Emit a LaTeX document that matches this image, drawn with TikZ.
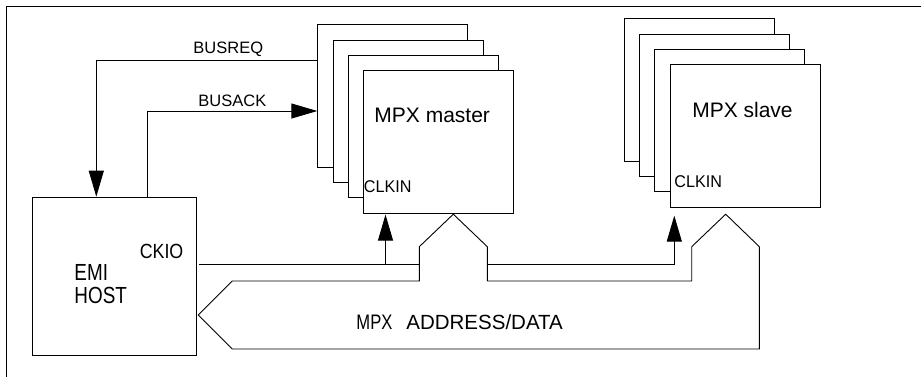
\documentclass[tikz,border=0pt]{standalone}
\usepackage{fontspec}
\setmainfont{Liberation Sans}
\usetikzlibrary{arrows.meta,positioning,calc}
\tikzset{card/.style={draw,fill=white,inner sep=0pt,anchor=north west,minimum width=150pt,minimum height=142.4pt}}
\tikzset{txt/.style={inner sep=0pt,font=\fontsize{16.5}{18}\selectfont}}
\tikzset{bigtxt/.style={inner sep=0pt,font=\fontsize{21}{23}\selectfont}}
\newcommand{\narrow}[2]{\scalebox{#1}[1]{#2}}

\begin{document}
\begin{tikzpicture}[x=1pt, y=-1pt, line width=0.9pt, >={Triangle[length=26pt,width=15pt]}]
        \useasboundingbox (0,0) rectangle (921,377);
        \draw (6,377) -- (6,6) -- (921,6);
        % stacked cards
        \foreach \i/\n in {3/mst3,2/mst2,1/mst1,0/mst}
            \node[card] (\n) at ({363.3-15.33*\i},{70.3-15.33*\i}) {};
        \foreach \i/\n in {3/slv3,2/slv2,1/slv1,0/slv}
            \node[card] (\n) at ({669.7-15.33*\i},{64.3-15.33*\i}) {};
        \node[draw,inner sep=0pt,anchor=north west,minimum width=164pt,minimum height=158.3pt] (host) at (31.7,196.7) {};
        \node[bigtxt] (mstlbl) at (432.2,115) {MPX master};
        \node[bigtxt] (slvlbl) at (742.5,110) {MPX slave};
        \node[txt,anchor=west,font=\fontsize{17}{19}\selectfont] (mclk) at (363.5,187) {\narrow{0.95}{CLKIN}};
        \node[txt,anchor=west,font=\fontsize{17}{19}\selectfont] (sclk) at (674,182) {\narrow{0.95}{CLKIN}};
        \node[txt,anchor=west,font=\fontsize{20.5}{22}\selectfont] (ckio) at (139.3,251.7) {\narrow{0.87}{CKIO}};
        \node[txt,anchor=west,align=left,font=\fontsize{23.3}{23.3}\selectfont] (hostlbl) at (74,284.2) {\narrow{0.81}{EMI}\\\narrow{0.81}{HOST}};
        \node[txt,anchor=west] (req) at (193,49.2) {BUSREQ};
        \node[txt,anchor=west] (ack) at (198,101.2) {BUSACK};
        \node[txt,anchor=west,font=\fontsize{20.5}{22}\selectfont] (bus) at (356,322) {\narrow{0.79}{\fontsize{21}{22}\selectfont MPX}\hspace{14pt}ADDRESS/DATA};
        % handshake
        \draw[->] ($(mst3.north west)+(0,36)$) -| ($(host.north west)+(64.6,0)$);
        \draw[->] ($(host.north west)+(115.3,0)$) |- ($(mst3.north west)+(0,86.7)$);
        % clock
        \coordinate (ck) at ($(host.north east)+(2.3,67.6)$);
        \coordinate (clkm) at ($(mst.south west)+(22.2,1)$);
        \coordinate (clks) at ($(slv.south west)+(4.6,8)$);
        \draw (ck) -- (419.3,264.3);
        \draw[->] (ck -| clkm) -- (clkm);
        \draw[->] (487.3,264.3) -| (clks);
        % bus
        \coordinate (mtap) at ($(mst.south west)+(90,0.6)$);
        \coordinate (stap) at ($(slv.south west)+(56,6.6)$);
        \draw (198.3,315) -- (232.3,281) -- (419.3,281) -- (419.3,246.7) -- (mtap) -- (487.3,246.7) -- (487.3,281)
            -- (691.7,281) -- (691.7,246.7) -- (stap) -- (759.3,246.7) -- (759.3,349) -- (232.3,349) -- cycle;
\end{tikzpicture}
\end{document}
